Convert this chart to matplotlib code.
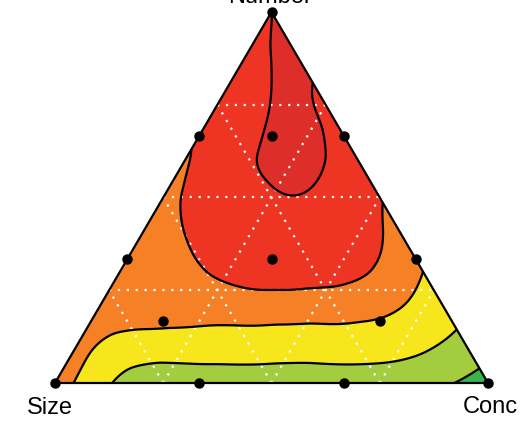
import numpy as np
import matplotlib.pyplot as plt
import matplotlib.tri as mtri

# response on a 1/10 simplex lattice, one list per Number level (0 .. 1);
# each list runs from the Size edge (Conc = 0) towards the Conc edge
resp_rows = [
    [3.5, 2.35, 1.5, 1.45, 1.45, 1.45, 1.4, 1.4, 1.35, 1.1, 0.6],
    [3.4, 2.66, 2.5, 2.5, 2.5, 2.45, 2.5, 2.45, 2.15, 1.6],
    [3.5, 3.45, 3.4, 3.4, 3.45, 3.4, 3.3, 2.98, 2.4],
    [3.55, 3.7, 4.0, 4.35, 4.4, 4.3, 3.85, 3.0],
    [3.6, 4.0, 4.4, 4.6, 4.55, 4.3, 3.7],
    [3.65, 4.4, 4.7, 4.97, 4.6, 4.05],
    [3.9, 4.6, 5.2, 5.15, 4.5],
    [4.2, 4.7, 5.3, 4.65],
    [4.4, 5.0, 4.95],
    [4.7, 5.25],
    [4.99],
]

# extra readings around the ridge below the Number vertex
extra_number = [0.8, 0.55, 0.55, 0.55]
extra_conc = [0.15, 0.21, 0.27, 0.333]
extra_resp = [5.2, 5.0, 5.2, 5.0]

# design points (Number, Conc); Size makes up the rest
design_number = [1, 0, 0, 2/3, 1/3, 2/3, 1/3, 0, 0, 2/3, 1/3, 1/6, 1/6]
design_conc = [0, 0, 1, 0, 0, 1/3, 2/3, 1/3, 2/3, 1/6, 1/3, 1/6, 2/3]

levels = [0, 1, 2, 3, 4, 5, 6]
band_colors = ['#3bb54a', '#a4cc3f', '#f8e61c', '#f58026', '#ee3524', '#dd2e29']


def to_xy(number, conc):
    number = np.asarray(number, dtype=float)
    conc = np.asarray(conc, dtype=float)
    return conc + number / 2, number * np.sqrt(3) / 2


num, conc, z = [], [], []
for k, row in enumerate(resp_rows):
    for j, v in enumerate(row):
        num.append(k / 10)
        conc.append(j / 10)
        z.append(v)
num += extra_number
conc += extra_conc
z += extra_resp

x, y = to_xy(num, conc)
tri = mtri.Triangulation(x, y)
refiner = mtri.UniformTriRefiner(tri)
tri_f, z_f = refiner.refine_field(np.array(z), subdiv=4)

fig = plt.figure(figsize=(5.24, 4.21), dpi=100)
ax = fig.add_axes([0, 0, 1, 1])
ax.axis('off')
ax.set_xlim(-55 / 433, 469 / 433)
ax.set_ylim(-38 / 428.4, 383 / 428.4)

ax.tricontourf(tri_f, z_f, levels=levels, colors=band_colors, zorder=1)

# dotted grid at 0.25 steps for every component
for t in (0.25, 0.5, 0.75):
    gx, gy = to_xy([t, t], [0, 1 - t])
    ax.plot(gx, gy, color='white', lw=1.6, ls=(0, (1, 3)), zorder=2)
    gx, gy = to_xy([0, 1 - t], [t, t])
    ax.plot(gx, gy, color='white', lw=1.6, ls=(0, (1, 3)), zorder=2)
    gx, gy = to_xy([0, 1 - t], [1 - t, 0])
    ax.plot(gx, gy, color='white', lw=1.6, ls=(0, (1, 3)), zorder=2)

ax.tricontour(tri_f, z_f, levels=levels[1:-1], colors='black', linewidths=1.6, zorder=3)

ex, ey = to_xy([1, 0, 0, 1], [0, 0, 1, 0])
ax.plot(ex, ey, color='black', lw=1.6, zorder=4)

dx, dy = to_xy(design_number, design_conc)
ax.plot(dx, dy, 'o', color='black', ms=6.5, zorder=5, clip_on=False)

lab = dict(fontsize=17, family='Liberation Sans', va='baseline')
ax.text(-28 / 433, -31 / 428.4, 'Size', ha='left', **lab)
ax.text(408 / 433, -30 / 428.4, 'Conc', ha='left', **lab)
ax.text(0.4965, 380 / 428.4, 'Number', ha='center', **lab)

fig.savefig('out.png', dpi=100)
